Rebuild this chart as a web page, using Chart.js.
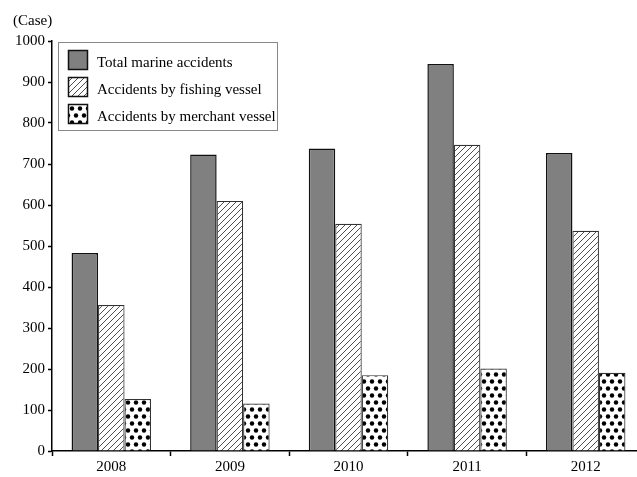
<!DOCTYPE html>
<html>
<head>
<meta charset="utf-8">
<script src="https://cdn.jsdelivr.net/npm/chart.js@4.4.1/dist/chart.umd.min.js"></script>
<style>
  html, body { margin: 0; padding: 0; background: #fff; overflow: hidden; }
</style>
</head>
<body>
<canvas id="accidentChart" width="645" height="477"></canvas>
<script>
// Data
const years = ['2008', '2009', '2010', '2011', '2012'];
const totalAccidents = [483, 723, 738, 944, 727];
const fishingAccidents = [356, 610, 554, 747, 537];
const merchantAccidents = [127, 116, 185, 201, 191];
const seriesNames = ['Total marine accidents', 'Accidents by fishing vessel', 'Accidents by merchant vessel'];
const yMax = 1000;
const yStep = 100;
const yUnit = '(Case)';

Chart.defaults.font.family = '"Liberation Serif", "Times New Roman", serif';
Chart.defaults.font.size = 15;
Chart.defaults.color = '#000';

// hatch pattern for fishing vessels
function makeHatch() {
	const c = document.createElement('canvas');
	c.width = 6; c.height = 6;
	const g = c.getContext('2d');
	g.fillStyle = '#fff';
	g.fillRect(0, 0, 6, 6);
	g.strokeStyle = '#222';
	g.lineWidth = 0.8;
	g.beginPath();
	g.moveTo(0, 6); g.lineTo(6, 0);
	g.moveTo(-1, 1); g.lineTo(1, -1);
	g.moveTo(5, 7); g.lineTo(7, 5);
	g.stroke();
	return g.createPattern(c, 'repeat');
}

// dotted pattern for merchant vessels
function makeDots() {
	const c = document.createElement('canvas');
	c.width = 8; c.height = 14;
	const g = c.getContext('2d');
	g.fillStyle = '#fff';
	g.fillRect(0, 0, 8, 14);
	g.fillStyle = '#000';
	const dots = [[4, 3.5], [0, 10.5], [8, 10.5]];
	dots.forEach(([x, y]) => {
		g.beginPath();
		g.arc(x, y, 2.2, 0, Math.PI * 2);
		g.fill();
	});
	return g.createPattern(c, 'repeat');
}

const fills = ['#808080', makeHatch(), makeDots()];

const boxPlugin = {
	id: 'boxPlugin',
	afterDraw(chart) {
		const ctx = chart.ctx;
		ctx.save();
		// unit label
		ctx.fillStyle = '#000';
		ctx.font = '15px "Liberation Serif", serif';
		ctx.textBaseline = 'middle';
		ctx.textAlign = 'left';
		ctx.fillText(yUnit, 13, 21);

		// legend frame
		ctx.fillStyle = '#fff';
		ctx.fillRect(58.5, 42.5, 219, 88);
		ctx.strokeStyle = '#888';
		ctx.lineWidth = 1;
		ctx.strokeRect(58.5, 42.5, 219, 88);

		const rows = [60, 87, 114];
		seriesNames.forEach((name, i) => {
			ctx.fillStyle = fills[i];
			ctx.fillRect(68, rows[i] - 10, 20, 20);
			ctx.strokeStyle = '#111';
			ctx.lineWidth = 1.5;
			ctx.strokeRect(68.5, rows[i] - 9.5, 19, 19);
			ctx.fillStyle = '#000';
			ctx.fillText(name, 97, rows[i] + 3);
		});
		ctx.restore();
	}
};

const ctx = document.getElementById('accidentChart').getContext('2d');

new Chart(ctx, {
	type: 'bar',
	data: {
		labels: years,
		datasets: [
			{ label: seriesNames[0], data: totalAccidents, backgroundColor: fills[0], borderColor: '#111', borderWidth: 1.5 },
			{ label: seriesNames[1], data: fishingAccidents, backgroundColor: fills[1], borderColor: '#333', borderWidth: 1.2 },
			{ label: seriesNames[2], data: merchantAccidents, backgroundColor: fills[2], borderColor: '#333', borderWidth: 1.2 }
		]
	},
	options: {
		responsive: false,
		animation: false,
		layout: { padding: { top: 41, left: 0, right: 0, bottom: 0 } },
		datasets: {
			bar: { barPercentage: 1, categoryPercentage: 0.67 }
		},
		plugins: {
			legend: { display: false },
			tooltip: { enabled: false }
		},
		scales: {
			x: {
				offset: true,
				grid: { display: true, offset: true, drawOnChartArea: false, tickLength: 5, tickColor: '#000', tickWidth: 1.5 },
				border: { display: true, color: '#000', width: 1.5 },
				ticks: { padding: 2, color: '#000', font: { size: 15 } },
				afterFit(scale) { scale.height = 26; }
			},
			y: {
				min: 0,
				max: yMax,
				ticks: { stepSize: yStep, padding: 3, color: '#000', font: { size: 15 }, callback: v => String(v) },
				grid: { display: true, drawOnChartArea: false, tickLength: 4, tickColor: '#000', tickWidth: 1.5 },
				border: { display: true, color: '#000', width: 1.5 },
				afterFit(scale) { scale.width = 52; }
			}
		}
	},
	plugins: [boxPlugin]
});
</script>
</body>
</html>
